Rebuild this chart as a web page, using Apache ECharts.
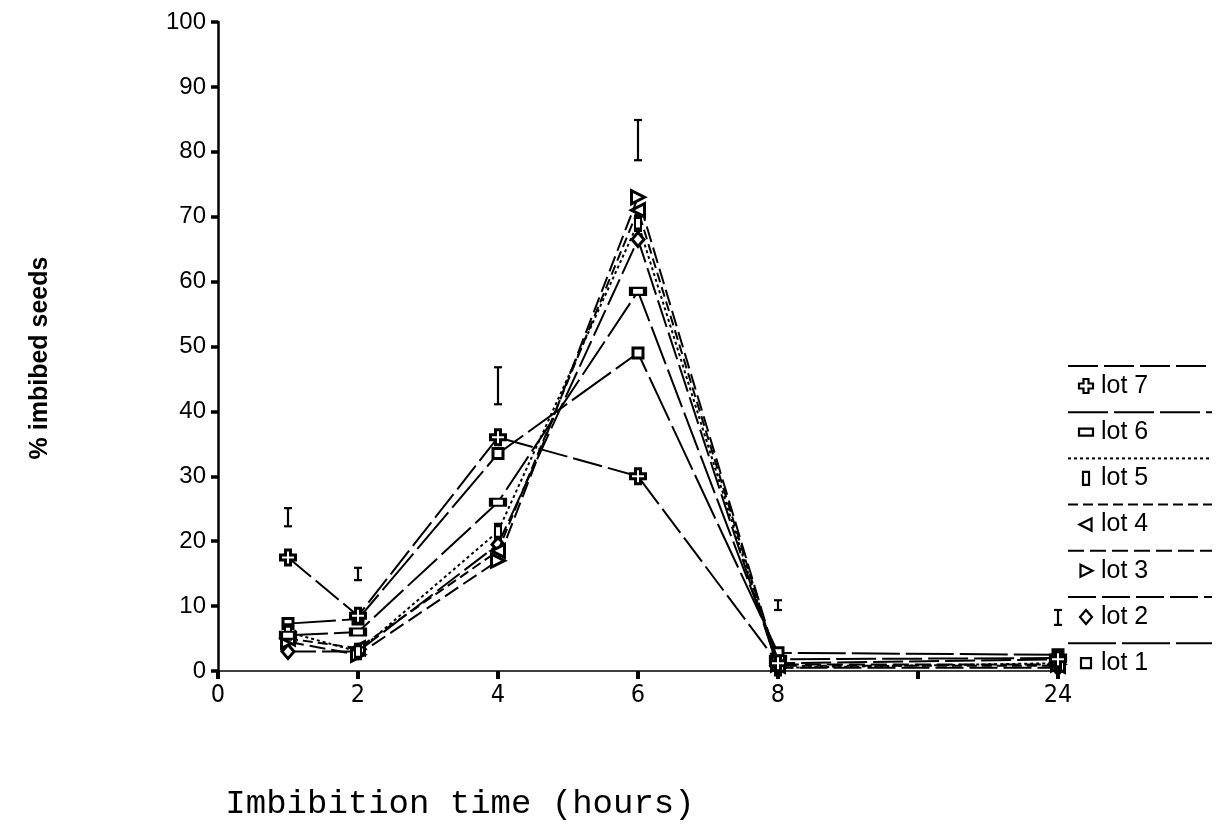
<!DOCTYPE html>
<html>
<head>
<meta charset="utf-8">
<script src="https://cdn.jsdelivr.net/npm/echarts@6/dist/echarts.min.js"></script>
<style>
  html, body { margin: 0; padding: 0; background: #ffffff; }
  #chart { width: 1217px; height: 825px; }
</style>
</head>
<body>
<div id="chart"></div>
<script>
// Sampling times (hours) and the imbibition percentage for each seed lot
const hours = [1, 2, 4, 6, 8, 24];
const lot1 = [7.3, 8.0, 33.5, 49.0, 2.8, 2.5];
const lot2 = [3.0, 3.0, 19.5, 66.5, 0.5, 0.5];
const lot3 = [4.5, 2.5, 17.0, 73.0, 1.0, 1.0];
const lot4 = [5.0, 3.5, 18.5, 71.0, 0.8, 0.8];
const lot5 = [6.0, 3.0, 21.5, 69.0, 0.5, 1.2];
const lot6 = [5.5, 6.0, 26.0, 58.5, 1.8, 2.0];
const lot7 = [17.5, 8.5, 36.0, 30.0, 1.2, 1.8];
const lotNames = ['lot 1', 'lot 2', 'lot 3', 'lot 4', 'lot 5', 'lot 6', 'lot 7'];

// Least-significant-difference bars at each sampling time
const lsdHours = [1, 2, 4, 6, 8, 24];
const lsdLow = [22.3, 14.0, 41.1, 78.7, 9.4, 7.1];
const lsdHigh = [25.1, 15.9, 46.8, 84.9, 10.9, 9.4];

// Axis tick labels (the axis is broken between 8 and 24 h)
const yTicks = [0, 10, 20, 30, 40, 50, 60, 70, 80, 90, 100];
const xTickLabels = { 0: '0', 2: '2', 4: '4', 6: '6', 8: '8', 10: '', 12: '24' };

// Map an hour onto the broken time axis
function axisPos(h) { return h <= 8 ? h : 12; }

const lotValues = [lot1, lot2, lot3, lot4, lot5, lot6, lot7];

const crossPath = 'path://M4,0H8V4H12V8H8V12H4V8H0V4H4Z';
const lotStyle = [
  { dash: [48, 6], symbol: 'rect',     size: [10, 10], rotate: 0 },
  { dash: [28, 6], symbol: 'diamond',  size: [12, 14], rotate: 0 },
  { dash: [16, 6], symbol: 'triangle', size: [13, 13], rotate: -90 },
  { dash: [10, 5], symbol: 'triangle', size: [13, 13], rotate: 90 },
  { dash: [3, 3],  symbol: 'rect',     size: [6, 13],  rotate: 0 },
  { dash: [40, 6], symbol: 'rect',     size: [14, 7],  rotate: 0 },
  { dash: [30, 6], symbol: crossPath,  size: [15, 15], rotate: 0 }
];

const series = lotValues.map((vals, i) => ({
  name: lotNames[i],
  type: 'line',
  data: hours.map((h, k) => [axisPos(h), vals[k]]),
  symbol: lotStyle[i].symbol,
  symbolSize: lotStyle[i].size,
  symbolRotate: lotStyle[i].rotate,
  showAllSymbol: true,
  lineStyle: { color: '#000', width: 2, type: lotStyle[i].dash },
  itemStyle: { color: '#fff', borderColor: '#000', borderWidth: 3 },
  z: 3 + i,
  animation: false
}));

series.push({
  name: 'LSD',
  type: 'custom',
  data: lsdHours.map((h, k) => [axisPos(h), lsdLow[k], lsdHigh[k]]),
  renderItem: function (params, api) {
    const lo = api.coord([api.value(0), api.value(1)]);
    const hi = api.coord([api.value(0), api.value(2)]);
    const cap = 4;
    const style = { stroke: '#000', lineWidth: 2.2 };
    return {
      type: 'group',
      children: [
        { type: 'line', shape: { x1: lo[0], y1: lo[1], x2: hi[0], y2: hi[1] }, style: style },
        { type: 'line', shape: { x1: lo[0] - cap, y1: lo[1], x2: lo[0] + cap, y2: lo[1] }, style: style },
        { type: 'line', shape: { x1: hi[0] - cap, y1: hi[1], x2: hi[0] + cap, y2: hi[1] }, style: style }
      ]
    };
  },
  z: 10,
  animation: false
});

// Legend: a line sample above each entry, then the marker and its name (lot 7 on top)
function legendMarker(i, cx, cy) {
  const st = { fill: '#fff', stroke: '#000', lineWidth: 2.2 };
  if (i === 0) return { type: 'rect', shape: { x: cx - 5, y: cy - 5, width: 10, height: 10 }, style: st };
  if (i === 1) return { type: 'polygon', shape: { points: [[cx, cy - 7], [cx + 6, cy], [cx, cy + 7], [cx - 6, cy]] }, style: st };
  if (i === 2) return { type: 'polygon', shape: { points: [[cx - 5.5, cy - 6], [cx + 6.5, cy], [cx - 5.5, cy + 6]] }, style: st };
  if (i === 3) return { type: 'polygon', shape: { points: [[cx + 5.5, cy - 6], [cx - 6.5, cy], [cx + 5.5, cy + 6]] }, style: st };
  if (i === 4) return { type: 'rect', shape: { x: cx - 3, y: cy - 6.5, width: 6, height: 13 }, style: st };
  if (i === 5) return { type: 'rect', shape: { x: cx - 7, y: cy - 3.5, width: 14, height: 7 }, style: st };
  const a = 2.5, b = 7;
  return { type: 'polygon', shape: { points: [
    [cx - a, cy - b], [cx + a, cy - b], [cx + a, cy - a], [cx + b, cy - a], [cx + b, cy + a], [cx + a, cy + a],
    [cx + a, cy + b], [cx - a, cy + b], [cx - a, cy + a], [cx - b, cy + a], [cx - b, cy - a], [cx - a, cy - a]
  ] }, style: st };
}

const legendGraphics = [];
const legendTop = 366, legendStep = 46.2, legendLeft = 1068, legendRight = 1212;
for (let r = 0; r < lotNames.length; r++) {
  const i = lotNames.length - 1 - r;
  const y = legendTop + r * legendStep;
  legendGraphics.push({
    type: 'line',
    shape: { x1: legendLeft, y1: y, x2: legendRight, y2: y },
    style: { stroke: '#000', lineWidth: 2, lineDash: lotStyle[i].dash }
  });
  legendGraphics.push(legendMarker(i, 1086, y + 20));
  legendGraphics.push({
    type: 'text',
    x: 1101, y: y + 20,
    style: { text: lotNames[i], font: '25px "Liberation Sans", Arial, sans-serif', fill: '#000', verticalAlign: 'middle', align: 'left' }
  });
}

const chart = echarts.init(document.getElementById('chart'), null, { renderer: 'canvas' });
chart.setOption({
  backgroundColor: '#ffffff',
  animation: false,
  grid: { left: 218, right: 159, top: 22, bottom: 154, containLabel: false },
  xAxis: {
    type: 'value', min: 0, max: 12, interval: 2,
    axisLine: { show: true, onZero: false, lineStyle: { color: '#000', width: 1.5 } },
    axisTick: { show: true, length: 8, lineStyle: { color: '#000', width: 4 } },
    splitLine: { show: false },
    axisLabel: {
      margin: 12, color: '#000',
      fontFamily: '"Liberation Sans Narrow", "DejaVu Sans Condensed", Arial, sans-serif',
      fontSize: 25,
      formatter: v => (xTickLabels[v] !== undefined ? xTickLabels[v] : '')
    }
  },
  yAxis: {
    type: 'value', min: yTicks[0], max: yTicks[yTicks.length - 1], interval: 10,
    axisLine: { show: true, lineStyle: { color: '#000', width: 2.5 } },
    axisTick: { show: true, length: 7, lineStyle: { color: '#000', width: 3.5 } },
    splitLine: { show: false },
    axisLabel: {
      margin: 12, color: '#000',
      fontFamily: '"Liberation Sans", Arial, sans-serif', fontSize: 24
    }
  },
  graphic: [
    {
      type: 'text', x: 40, y: 358, rotation: Math.PI / 2,
      style: { text: '% imbibed seeds', font: 'bold 25px "Liberation Sans", Arial, sans-serif', fill: '#000', align: 'center', verticalAlign: 'middle' }
    },
    {
      type: 'text', x: 460, y: 804,
      style: { text: 'Imbibition time (hours)', font: '34px "Liberation Mono", "DejaVu Sans Mono", monospace', fill: '#000', align: 'center', verticalAlign: 'middle' }
    }
  ].concat(legendGraphics),
  series: series
});
</script>
</body>
</html>
